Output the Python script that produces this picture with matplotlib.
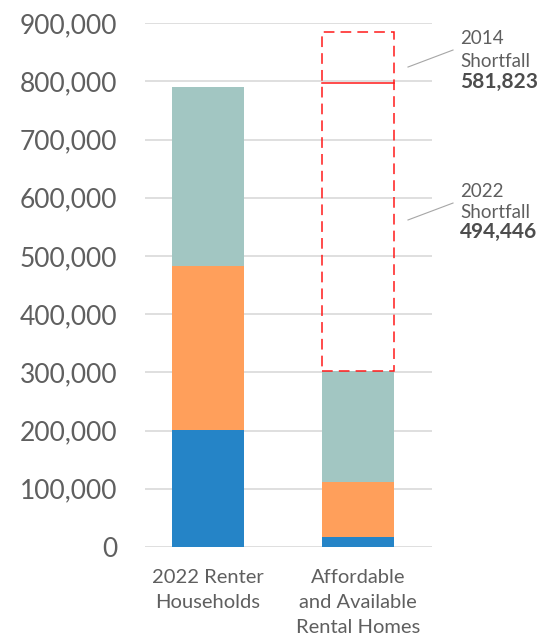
import matplotlib
matplotlib.use("Agg")
import matplotlib.pyplot as plt
from matplotlib.ticker import FuncFormatter

# Data
categories = ["2022 Renter\nHouseholds", "Affordable\nand Available\nRental Homes"]
seg_blue = [201000, 17000]
seg_orange = [281000, 95000]
seg_teal = [309000, 191000]
shortfall_2014 = 581823
shortfall_2022 = 494446
y_ticks = list(range(0, 900001, 100000))

colors = {"blue": "#2584c7", "orange": "#ff9f5b", "teal": "#a2c6c2"}
text_gray = "#5f5f5f"

plt.rcParams["font.family"] = ["Lato", "DejaVu Sans"]

fig = plt.figure(figsize=(5.54, 6.43), dpi=100)
ax = fig.add_axes([145 / 554, 1 - 547 / 643, (432 - 145) / 554, (547 - 23.2) / 643])

x = [0, 1]
width = 0.48
bottom_orange = seg_blue
bottom_teal = [b + o for b, o in zip(seg_blue, seg_orange)]
totals = [b + t for b, t in zip(bottom_teal, seg_teal)]

ax.bar(x, seg_blue, width, color=colors["blue"], zorder=3)
ax.bar(x, seg_orange, width, bottom=bottom_orange, color=colors["orange"], zorder=3)
ax.bar(x, seg_teal, width, bottom=bottom_teal, color=colors["teal"], zorder=3)

# Shortfall box above affordable homes
base = totals[1]
ax.bar(x[1], shortfall_2014, width, bottom=base, fill=False, edgecolor="#ff1a1a",
       linewidth=1.1, linestyle=(0, (7, 4)), zorder=4)
ax.plot([x[1] - width / 2, x[1] + width / 2], [base + shortfall_2022] * 2,
        color="#ff1a1a", linewidth=1.1, zorder=4)

ax.set_xlim(-0.42, 1.493)
ax.set_ylim(0, 900000)
ax.set_yticks(y_ticks)
ax.yaxis.set_major_formatter(FuncFormatter(lambda v, p: f"{int(v):,}"))
ax.set_xticks(x)
ax.set_xticklabels(categories, fontsize=14.5, color=text_gray, linespacing=1.55)
ax.tick_params(axis="y", length=0, pad=20, labelsize=19, labelcolor=text_gray)
ax.tick_params(axis="x", length=0, pad=16)
for s in ax.spines.values():
    s.set_visible(False)
ax.grid(axis="y", color="#d9d9d9", linewidth=1.2, zorder=0)
ax.set_axisbelow(True)

# Annotations, one text per line
def label(xt, ys, year, value):
    ax.text(xt, ys[0], year, fontsize=13.5, color=text_gray,
            va="baseline", ha="left", clip_on=False)
    ax.text(xt, ys[1], "Shortfall", fontsize=13.5, color=text_gray,
            va="baseline", ha="left", clip_on=False)
    ax.text(xt, ys[2], value, fontsize=15, color="#4d4d4d",
            fontweight="bold", va="baseline", ha="left", clip_on=False)

label(1.68, [864300, 825300, 789200], "2014", f"{shortfall_2014:,}")
label(1.68, [601400, 565300, 530900], "2022", f"{shortfall_2022:,}")
ax.plot([1.333, 1.633], [824700, 853900], color="#a6a6a6", linewidth=0.8, clip_on=False)
ax.plot([1.333, 1.633], [561900, 591000], color="#a6a6a6", linewidth=0.8, clip_on=False)

fig.savefig("out.png", dpi=100)
